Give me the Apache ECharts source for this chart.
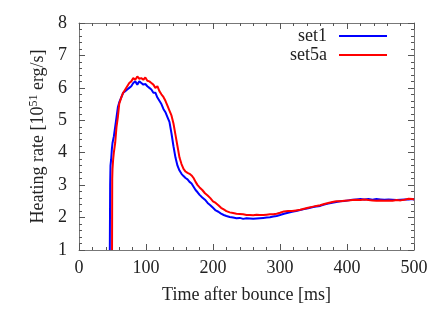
<!DOCTYPE html>
<html><head><meta charset="utf-8">
<script src="https://cdn.jsdelivr.net/npm/echarts@6/dist/echarts.min.js"></script>
<style>html,body{margin:0;padding:0;background:#fff}#c{width:442px;height:309px}</style>
</head><body><div id="c"></div>
<script>
var xTicks = [0, 100, 200, 300, 400, 500];
var yTicks = [1, 2, 3, 4, 5, 6, 7, 8];
var seriesNames = ['set1', 'set5a'];
var time1 = [46,46.5,47,48,49,50,51,52,54,56,58,60,63,66,69,72,75,78,81,84,87,90,93,96,99,102,105,108,111,114,117,120,123,126,129,132,135,138,141,144,147,150,153,156,159,162,165,168,171,174,177,180,184,188,192,196,200,204,208,212,216,220,225,230,235,240,245,250,255,260,265,270,275,280,285,290,295,300,306,312,318,324,330,336,342,348,354,360,366,372,378,384,390,396,402,408,414,420,426,432,438,444,450,456,462,468,474,480,486,492,498,500];
var rate1 = [1.0,3.0,3.6,3.8,4.1,4.3,4.3,4.5,4.8,5.1,5.4,5.55,5.7,5.85,5.9,5.95,6.0,6.05,6.15,6.2,6.1,6.2,6.15,6.1,6.12,6.05,6.0,5.95,5.85,5.85,5.7,5.6,5.5,5.35,5.25,5.1,4.95,4.6,4.2,3.85,3.6,3.45,3.35,3.28,3.22,3.18,3.1,3.05,2.95,2.85,2.78,2.7,2.62,2.55,2.45,2.38,2.3,2.22,2.18,2.12,2.08,2.05,2.02,2.0,1.98,1.99,1.96,1.98,1.97,1.96,1.97,1.98,1.99,2.0,2.01,2.03,2.05,2.08,2.12,2.15,2.18,2.2,2.23,2.26,2.29,2.32,2.34,2.36,2.4,2.43,2.46,2.48,2.5,2.51,2.53,2.55,2.56,2.57,2.56,2.57,2.55,2.57,2.56,2.55,2.56,2.55,2.54,2.55,2.56,2.56,2.57,2.55];
var time5a = [49.3,49.6,50,51,52,54,56,58,60,63,66,69,72,75,78,81,84,87,90,93,96,99,102,105,108,111,114,117,120,123,126,129,132,135,138,141,144,147,150,153,156,159,162,165,168,171,174,177,180,184,188,192,196,200,204,208,212,216,220,225,230,235,240,245,250,255,260,265,270,275,280,285,290,295,300,306,312,318,324,330,336,342,348,354,360,366,372,378,384,390,396,402,408,414,420,426,432,438,444,450,456,462,468,474,480,486,492,498,500];
var rate5a = [1.0,3.2,3.5,3.8,4.0,4.3,4.8,5.1,5.5,5.7,5.85,5.95,6.05,6.15,6.2,6.3,6.25,6.35,6.28,6.3,6.25,6.32,6.22,6.2,6.15,6.1,6.0,6.05,5.9,5.8,5.72,5.6,5.45,5.3,5.15,4.9,4.55,4.2,3.85,3.65,3.5,3.42,3.38,3.35,3.3,3.22,3.1,3.0,2.93,2.85,2.75,2.68,2.6,2.5,2.45,2.38,2.3,2.25,2.2,2.16,2.14,2.12,2.11,2.1,2.08,2.08,2.07,2.09,2.08,2.08,2.09,2.1,2.1,2.12,2.15,2.19,2.2,2.2,2.22,2.24,2.27,2.3,2.33,2.36,2.38,2.42,2.45,2.48,2.5,2.5,2.52,2.53,2.54,2.55,2.54,2.56,2.54,2.53,2.52,2.53,2.52,2.53,2.52,2.54,2.53,2.55,2.58,2.57,2.56];

function zip(a, b) { return a.map(function (v, i) { return [v, b[i]]; }); }

var font = 'Liberation Serif, Times New Roman, serif';
var axisGray = '#777';
function xAxis(pos, labels) {
  return {
    type: 'value', position: pos, min: xTicks[0], max: xTicks[xTicks.length - 1], interval: 100,
    axisLine: { show: true, onZero: false, lineStyle: { color: axisGray, width: 1 } },
    axisTick: { show: true, inside: true, length: 6, lineStyle: { color: '#555', width: 1 } },
    minorTick: { show: true, splitNumber: 5, length: 3, lineStyle: { color: '#555', width: 1 } },
    splitLine: { show: false },
    axisLabel: { show: labels, fontFamily: font, fontSize: 18, color: '#222', margin: 9 },
    name: labels ? 'Time after bounce [ms]' : '', nameLocation: 'middle', nameGap: 36,
    nameTextStyle: { fontFamily: font, fontSize: 18, color: '#222' }
  };
}
function yAxis(pos, labels) {
  return {
    type: 'value', position: pos, min: yTicks[0], max: yTicks[yTicks.length - 1], interval: 1,
    axisLine: { show: true, onZero: false, lineStyle: { color: axisGray, width: 1 } },
    axisTick: { show: true, inside: true, length: 6, lineStyle: { color: '#555', width: 1 } },
    minorTick: { show: true, splitNumber: 5, length: 3, lineStyle: { color: '#555', width: 1 } },
    splitLine: { show: false },
    axisLabel: { show: labels, fontFamily: font, fontSize: 18, color: '#222', margin: 12 },
    name: labels ? '{n|Heating rate [10}{s|51}{n| erg/s]}' : '', nameLocation: 'middle', nameGap: 31, nameRotate: 90,
    nameTextStyle: { fontFamily: font, fontSize: 18, color: '#222',
      rich: { n: { fontFamily: font, fontSize: 18, color: '#222' }, s: { fontFamily: font, fontSize: 12, color: '#222', verticalAlign: 'top', padding: [0, 0, 8, 0] } } }
  };
}
function legend(name, top) {
  return {
    data: [name], right: 50, top: top, align: 'right', orient: 'vertical',
    itemWidth: 48, itemHeight: 14, icon: 'path://M0,6H48V8H0Z',
    textStyle: { fontFamily: font, fontSize: 18, color: '#222', padding: [0, 7, 0, 0] },
    selectedMode: false
  };
}
var chart = echarts.init(document.getElementById('c'), null, { renderer: 'canvas' });
chart.setOption({
  animation: false,
  backgroundColor: '#fff',
  grid: { left: 79, right: 28, top: 23, bottom: 59 },
  legend: [legend(seriesNames[0], 22), legend(seriesNames[1], 41)],
  xAxis: [xAxis('bottom', true), xAxis('top', false)],
  yAxis: [yAxis('left', true), yAxis('right', false)],
  series: [
    { name: seriesNames[0], type: 'line', data: zip(time1, rate1), symbol: 'none', color: '#0000ff', lineStyle: { width: 2, color: '#0000ff' }, z: 2 },
    { name: seriesNames[1], type: 'line', data: zip(time5a, rate5a), symbol: 'none', color: '#ff0000', lineStyle: { width: 2, color: '#ff0000' }, z: 3 }
  ]
});
</script></body></html>
